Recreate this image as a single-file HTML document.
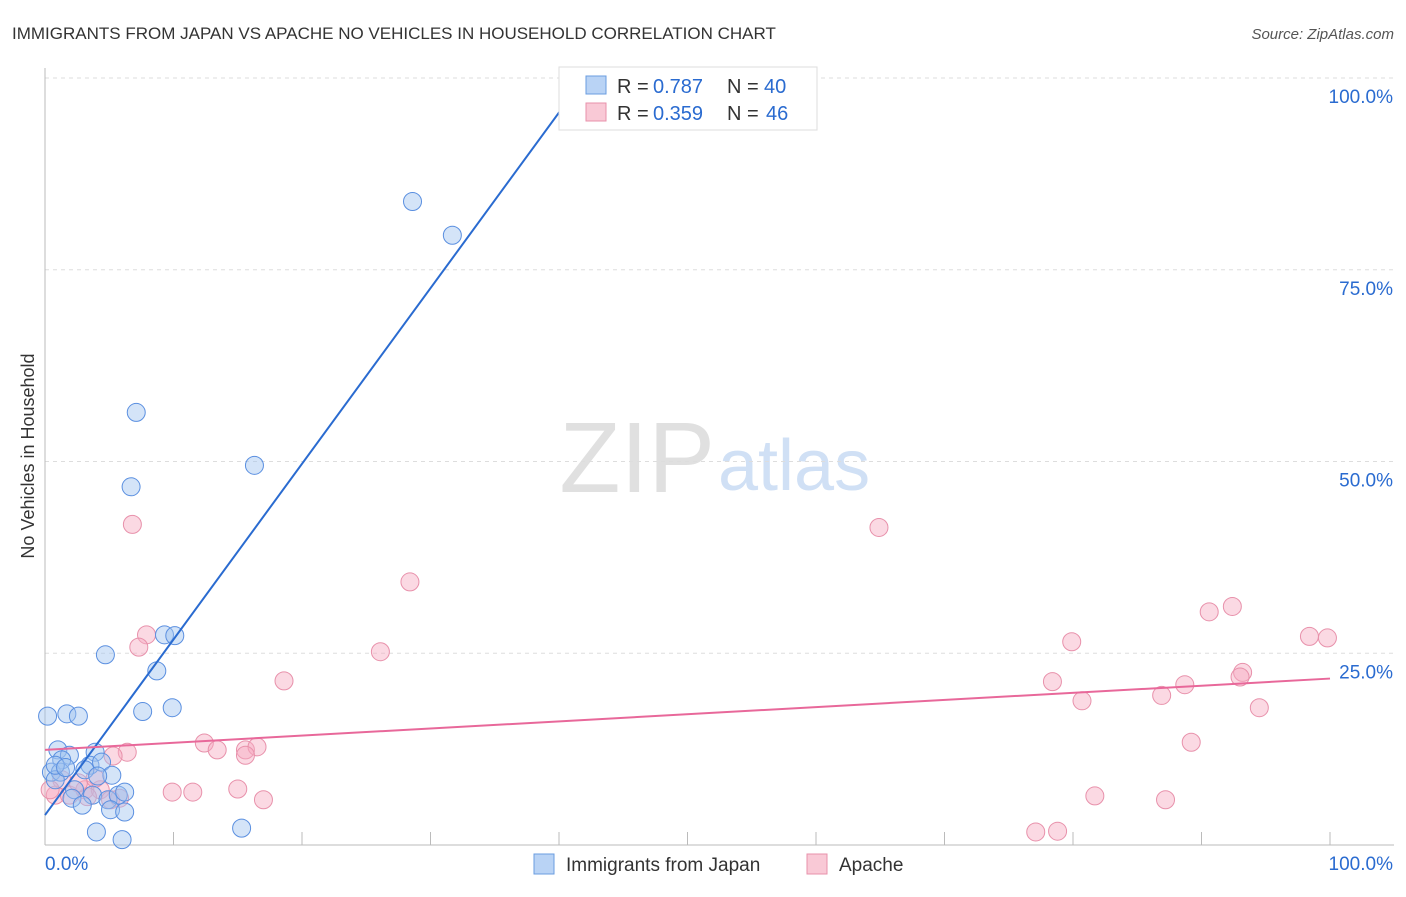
<!DOCTYPE html><html><head><meta charset="utf-8"><style>
body{margin:0;background:#fff;font-family:"Liberation Sans",sans-serif}
svg text{font-family:"Liberation Sans",sans-serif}
</style></head><body>
<svg id="c" width="1406" height="892">
<text x="12" y="39" font-size="17" fill="#333">IMMIGRANTS FROM JAPAN VS APACHE NO VEHICLES IN HOUSEHOLD CORRELATION CHART</text>
<text x="1394" y="39" font-size="15" fill="#555" font-style="italic" text-anchor="end">Source: ZipAtlas.com</text>
<text x="715" y="492" font-size="100" fill="#e0e0e0" text-anchor="end" font-family="Liberation Serif">ZIP</text>
<text x="718" y="490" font-size="72" fill="#d0e0f5">atlas</text>
<text transform="translate(34,456) rotate(-90)" font-size="18" fill="#333" text-anchor="middle">No Vehicles in Household</text>
<g id="grid"></g><g id="pts"></g><g id="lines"></g>
<g>
<rect x="559" y="67" width="258" height="63" fill="#fff" stroke="#ddd"/>
<rect x="586" y="76" width="20" height="18" fill="#b9d3f5" stroke="#6a9de0"/>
<rect x="586" y="103" width="20" height="18" fill="#f9c9d6" stroke="#e891ab"/>
<text x="617" y="93" font-size="20" fill="#333">R = </text><text x="653" y="93" font-size="20" fill="#2a6bd0">0.787</text>
<text x="727" y="93" font-size="20" fill="#333">N = </text><text x="764" y="93" font-size="20" fill="#2a6bd0">40</text>
<text x="617" y="120" font-size="20" fill="#333">R = </text><text x="653" y="120" font-size="20" fill="#2a6bd0">0.359</text>
<text x="727" y="120" font-size="20" fill="#333">N = </text><text x="766" y="120" font-size="20" fill="#2a6bd0">46</text>
</g>
<g>
<rect x="534" y="854" width="20" height="20" fill="#b9d3f5" stroke="#6a9de0"/>
<text x="566" y="871" font-size="19" fill="#333">Immigrants from Japan</text>
<rect x="807" y="854" width="20" height="20" fill="#f9c9d6" stroke="#e891ab"/>
<text x="839" y="871" font-size="19" fill="#333">Apache</text>
</g>
</svg>
<script>
const blueX=[28.6,31.7,7.1,6.7,16.3,4.7,9.3,10.1,8.7,7.6,9.9,0.2,1.7,2.6,1.0,1.9,3.9,1.3,3.5,4.4,0.5,1.2,3.1,5.2,4.1,0.8,2.3,3.7,4.9,5.7,6.2,2.1,2.9,5.1,6.2,4.0,6.0,15.3,0.8,1.6];
const blueY=[83.9,79.5,56.4,46.7,49.5,24.8,27.4,27.3,22.7,17.4,17.9,16.8,17.1,16.8,12.4,11.7,12.1,11.1,10.4,10.8,9.5,9.5,9.8,9.1,9.0,8.5,7.2,6.5,5.9,6.5,6.9,6.1,5.2,4.6,4.3,1.7,0.7,2.2,10.4,10.1];
const pinkX=[6.8,28.4,64.9,7.9,7.3,26.1,18.6,92.4,90.6,79.9,98.4,99.8,78.4,80.7,86.9,88.7,93.2,93.0,94.5,89.2,12.4,13.4,15.6,16.5,15.6,6.4,5.3,15.0,17.0,9.9,11.5,81.7,87.2,77.1,78.8,0.8,1.9,3.1,4.3,1.3,3.9,5.1,5.8,0.4,3.3,2.6];
const pinkY=[41.8,34.3,41.4,27.4,25.8,25.2,21.4,31.1,30.4,26.5,27.2,27.0,21.3,18.8,19.5,20.9,22.5,21.9,17.9,13.4,13.3,12.4,12.4,12.8,11.7,12.1,11.6,7.3,5.9,6.9,6.9,6.4,5.9,1.7,1.8,6.5,6.5,7.2,7.2,8.5,8.7,5.9,6.1,7.2,6.3,8.1];
const yTicks=[25,50,75,100];
const blueTrend=[3.9,2.29];const pinkTrend=[12.4,0.093];
const X0=45,X1=1330,Y0=845,Y1=78;
const sx=v=>X0+(X1-X0)*v/100, sy=v=>Y0-(Y0-Y1)*v/100;
const NS="http://www.w3.org/2000/svg";
function mk(t,a,p){const e=document.createElementNS(NS,t);for(const k in a)e.setAttribute(k,a[k]);p.appendChild(e);return e;}
const g=document.getElementById('grid');
yTicks.forEach(t=>{const l=mk('line',{x1:X0,x2:1394,y1:sy(t),y2:sy(t),stroke:'#ddd','stroke-dasharray':'4,4'},g);


const tx=mk('text',{x:1393,y:sy(t)+25,'font-size':19,fill:'#2a6bd0','text-anchor':'end'},g);tx.textContent=t.toFixed(1)+'%';

});
mk('line',{x1:X0,x2:X0,y1:68,y2:Y0,stroke:'#bbb'},g);
mk('line',{x1:X0,x2:1394,y1:Y0,y2:Y0,stroke:'#bbb'},g);
for(let i=1;i<=10;i++)mk('line',{x1:sx(i*10),x2:sx(i*10),y1:832,y2:Y0,stroke:'#bbb'},g);
const xl=mk('text',{x:45,y:870,'font-size':19,fill:'#2a6bd0'},g);xl.textContent='0.0%';


const xr=mk('text',{x:1393,y:870,'font-size':19,fill:'#2a6bd0','text-anchor':'end'},g);xr.textContent='100.0%';


const P=document.getElementById('pts');
pinkX.forEach((x,i)=>{const c=mk('circle',{cx:sx(x),cy:sy(pinkY[i]),r:9,fill:'rgba(246,170,192,0.45)',stroke:'#e891ab','stroke-width':1},P);

});
blueX.forEach((x,i)=>{const c=mk('circle',{cx:sx(x),cy:sy(blueY[i]),r:9,fill:'rgba(160,195,240,0.45)',stroke:'#5a8fe0','stroke-width':1},P);

});
const L=document.getElementById('lines');
const bxEnd=(100-blueTrend[0])/blueTrend[1];
const bl=mk('line',{x1:sx(0),y1:sy(blueTrend[0]),x2:sx(bxEnd),y2:sy(100),stroke:'#2a6bd0','stroke-width':2},L);


const pl=mk('line',{x1:sx(0),y1:sy(pinkTrend[0]),x2:sx(100),y2:sy(pinkTrend[0]+100*pinkTrend[1]),stroke:'#e8689a','stroke-width':2},L);


</script>
</body></html>
